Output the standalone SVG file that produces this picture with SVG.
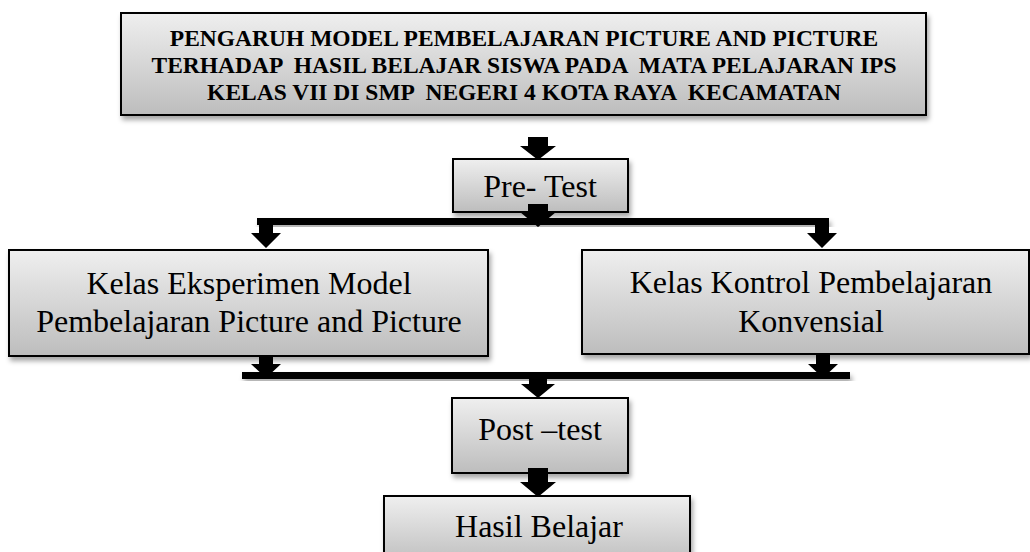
<svg xmlns="http://www.w3.org/2000/svg" width="1030" height="552" viewBox="0 0 1030 552">
<defs>
<linearGradient id="g" x1="0" y1="0" x2="0" y2="1">
<stop offset="0" stop-color="#efefef"/>
<stop offset="1" stop-color="#bdbdbd"/>
</linearGradient>
<filter id="sh" x="-5%" y="-10%" width="110%" height="130%">
<feDropShadow dx="2" dy="4" stdDeviation="2.5" flood-color="#000" flood-opacity="0.35"/>
</filter>
<style>
.box{fill:url(#g);stroke:#000;stroke-width:2;filter:url(#sh)}
.t{font-family:"Liberation Serif","Times New Roman",serif;font-size:32px;fill:#000;text-anchor:middle}
.tb{font-family:"Liberation Serif","Times New Roman",serif;font-size:23.5px;font-weight:bold;fill:#000;text-anchor:middle;white-space:pre}
.ln{fill:#000;filter:url(#sh)}
.ar{fill:#000}
</style>
</defs>
<g id="title">
<rect class="box" x="121" y="13" width="805" height="102"/>
<text class="tb" x="524" y="45.5" xml:space="preserve">PENGARUH MODEL PEMBELAJARAN PICTURE AND PICTURE</text>
<text class="tb" x="524" y="72.5" xml:space="preserve">TERHADAP  HASIL BELAJAR SISWA PADA  MATA PELAJARAN IPS</text>
<text class="tb" x="524" y="100" xml:space="preserve">KELAS VII DI SMP  NEGERI 4 KOTA RAYA  KECAMATAN</text>
</g>
<g id="pretest">
<rect class="box" x="453" y="159" width="175" height="53"/>
<text class="t" x="540" y="197">Pre- Test</text>
</g>
<g id="eksperimen">
<rect class="box" x="9" y="250" width="479" height="106"/>
<text class="t" x="249" y="294">Kelas Eksperimen Model</text>
<text class="t" x="249" y="332">Pembelajaran Picture and Picture</text>
</g>
<g id="kontrol">
<rect class="box" x="582" y="250" width="447" height="104"/>
<text class="t" x="811" y="293">Kelas Kontrol Pembelajaran</text>
<text class="t" x="811" y="332">Konvensial</text>
</g>
<g id="posttest">
<rect class="box" x="452" y="398" width="176" height="75"/>
<text class="t" x="540" y="440">Post –test</text>
</g>
<g id="hasil">
<rect class="box" x="384" y="496" width="306" height="70"/>
<text class="t" x="539" y="537">Hasil Belajar</text>
</g>
<g id="connectors">
<rect class="ln" x="257" y="218" width="572" height="7"/>
<rect class="ln" x="242" y="372" width="608" height="7"/>
<path class="ar" d="M528,137 H548 V146 H556 L538,160 L520,146 H528 Z"/>
<path class="ar" d="M528,204 H548 V212 H556 L538,227 L520,212 H528 Z"/>
<path class="ar" d="M259,225 H273 V233 H281 L266,248 L251,233 H259 Z"/>
<path class="ar" d="M815,225 H829 V233 H837 L822,248 L807,233 H815 Z"/>
<path class="ar" d="M259,355 H273 V364 H281 L266,378 L251,364 H259 Z"/>
<path class="ar" d="M816,354 H830 V364 H838 L823,378 L808,364 H816 Z"/>
<path class="ar" d="M529,378 H547 V384 H555 L538,398 L521,384 H529 Z"/>
<path class="ar" d="M528,468 H548 V482 H556 L538,497 L520,482 H528 Z"/>
</g>
</svg>
